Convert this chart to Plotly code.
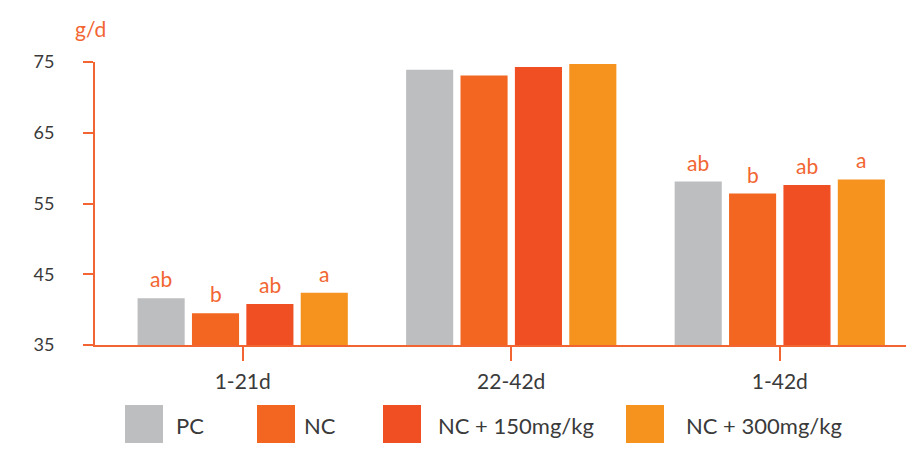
import plotly.graph_objects as go

categories = ["1-21d", "22-42d", "1-42d"]
series_names = ["PC", "NC", "NC + 150mg/kg", "NC + 300mg/kg"]
pc = [41.6, 73.9, 58.1]
nc = [39.5, 73.1, 56.4]
nc150 = [40.8, 74.3, 57.6]
nc300 = [42.4, 74.7, 58.4]
letters_pc = ["ab", "", "ab"]
letters_nc = ["b", "", "b"]
letters_nc150 = ["ab", "", "ab"]
letters_nc300 = ["a", "", "a"]
y_ticks = [35, 45, 55, 65, 75]
y_unit = "g/d"

colors = ["#bcbec0", "#f36621", "#f04e23", "#f6921e"]
accent = "#f26532"
text_color = "#3a3a3a"
FONT = "Lato, 'Noto Sans', sans-serif"

values = [pc, nc, nc150, nc300]
letters = [letters_pc, letters_nc, letters_nc150, letters_nc300]

W, H = 906, 451
plot_l, plot_r, plot_t, plot_b = 95, 0, 62, 106
plot_w = W - plot_l - plot_r
plot_h = H - plot_t - plot_b
x_range = [-0.55, 2.47]
bargap, bargroupgap = 0.19, 0.134

fig = go.Figure()
for name, vals, col in zip(series_names, values, colors):
    fig.add_trace(go.Bar(
        x=categories, y=vals, name=name,
        marker=dict(color=col, line=dict(width=0)),
        showlegend=False, hoverinfo="skip",
    ))

# significance letters above bars, positioned via the category axis
px_per_cat = plot_w / (x_range[1] - x_range[0])
slot = px_per_cat * (1 - bargap) / len(series_names)
for i, (vals, labs) in enumerate(zip(values, letters)):
    for cat, v, lab in zip(categories, vals, labs):
        if not lab:
            continue
        fig.add_annotation(text=lab, x=cat, y=v, xref="x", yref="y",
                           xanchor="center", yanchor="bottom",
                           xshift=(i - (len(series_names) - 1) / 2) * slot,
                           yshift=5, showarrow=False,
                           font=dict(color=accent, size=21, family=FONT))

# y-axis unit label
fig.add_annotation(text=y_unit, xref="paper", yref="paper", x=0, y=1,
                   xanchor="center", yanchor="middle", xshift=-5, yshift=34,
                   showarrow=False, font=dict(color=accent, size=21, family=FONT))

# custom legend with large swatches
sw_left = [125, 257, 383, 626]
txt_left = [174, 302, 436, 684]
plot_bottom_px = H - plot_b
for name, col, sx, tx in zip(series_names, colors, sw_left, txt_left):
    fig.add_shape(type="rect", xref="paper", yref="paper",
                  x0=(sx - plot_l) / plot_w, x1=(sx + 38 - plot_l) / plot_w,
                  y0=(plot_bottom_px - 443) / plot_h, y1=(plot_bottom_px - 405) / plot_h,
                  fillcolor=col, line=dict(width=0))
    fig.add_annotation(text=name, xref="paper", yref="paper",
                       x=(tx - plot_l) / plot_w, y=(plot_bottom_px - 425) / plot_h,
                       xanchor="left", yanchor="middle", showarrow=False,
                       font=dict(color=text_color, size=22, family=FONT))

fig.update_layout(
    width=W, height=H,
    margin=dict(l=plot_l, r=plot_r, t=plot_t, b=plot_b),
    paper_bgcolor="white", plot_bgcolor="white",
    barmode="group", bargap=bargap, bargroupgap=bargroupgap,
    font=dict(family=FONT, color=text_color),
    xaxis=dict(
        range=x_range, showgrid=False, zeroline=False,
        showline=True, linecolor=accent, linewidth=2,
        ticks="outside", ticklen=14, tickwidth=2, tickcolor=accent,
        tickfont=dict(size=21, color=text_color, family=FONT),
        ticklabelstandoff=3,
    ),
    yaxis=dict(
        range=[35, 75], tickvals=y_ticks, showgrid=False, zeroline=False,
        showline=True, linecolor=accent, linewidth=2,
        ticks="outside", ticklen=10, tickwidth=2, tickcolor=accent,
        tickfont=dict(size=18, color=text_color, family=FONT),
        ticklabelstandoff=25,
    ),
)

fig.write_html("out.html", config={"displayModeBar": False},
               post_script="document.body.style.margin='0';document.body.style.padding='0';")
